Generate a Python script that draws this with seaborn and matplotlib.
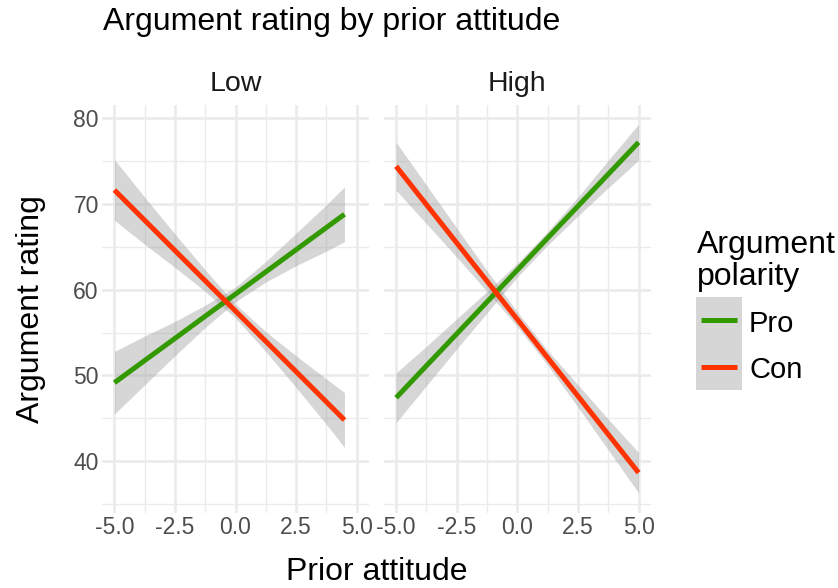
import numpy as np
import pandas as pd
import matplotlib
matplotlib.use("Agg")
import matplotlib.pyplot as plt
import seaborn as sns

# ---------------- data ----------------
panels = ["Low", "High"]
polarities = ["Pro", "Con"]

low_x = [-5, -3.75, -2.5, -1.25, 0, 1.25, 2.5, 3.75, 4.5]
high_x = [-5, -3.75, -2.5, -1.25, 0, 1.25, 2.5, 3.75, 5]

low_pro_fit = [49.15, 51.74, 54.32, 56.91, 59.49, 62.08, 64.66, 67.25, 68.8]
low_pro_lo = [45.5, 48.9, 52.3, 55.6, 58.6, 60.9, 62.8, 64.5, 65.6]
low_pro_hi = [52.8, 54.6, 56.3, 58.2, 60.3, 63.3, 66.6, 69.9, 72.0]

low_con_fit = [71.63, 68.1, 64.57, 61.04, 57.51, 53.98, 50.45, 46.92, 44.8]
low_con_lo = [68.1, 65.3, 62.6, 59.8, 56.7, 52.8, 48.6, 44.3, 41.6]
low_con_hi = [75.2, 70.8, 66.5, 62.3, 58.3, 55.1, 52.3, 49.6, 48.0]

high_pro_fit = [47.4, 51.13, 54.85, 58.58, 62.3, 66.03, 69.75, 73.48, 77.2]
high_pro_lo = [44.5, 48.8, 53.1, 57.3, 61.5, 65.2, 68.6, 71.9, 75.1]
high_pro_hi = [50.3, 53.4, 56.6, 59.8, 63.1, 66.8, 70.8, 75.1, 79.3]

high_con_fit = [74.4, 69.93, 65.46, 60.99, 56.53, 52.06, 47.59, 43.12, 38.65]
high_con_lo = [71.6, 67.7, 63.8, 59.8, 55.7, 51.2, 46.3, 41.3, 36.3]
high_con_hi = [77.2, 72.2, 67.2, 62.2, 57.4, 52.9, 48.9, 44.9, 41.0]

x_ticks = [-5.0, -2.5, 0.0, 2.5, 5.0]
x_tick_labels = ["-5.0", "-2.5", "0.0", "2.5", "5.0"]
y_ticks = [40, 50, 60, 70, 80]
y_tick_labels = ["40", "50", "60", "70", "80"]

series = {
    ("Low", "Pro"): (low_x, low_pro_fit, low_pro_lo, low_pro_hi),
    ("Low", "Con"): (low_x, low_con_fit, low_con_lo, low_con_hi),
    ("High", "Pro"): (high_x, high_pro_fit, high_pro_lo, high_pro_hi),
    ("High", "Con"): (high_x, high_con_fit, high_con_lo, high_con_hi),
}
rows = []
for (pan, pol), (xs, fit, lo, hi) in series.items():
    for a, b, c, d in zip(xs, fit, lo, hi):
        rows.append(dict(panel=pan, polarity=pol, prior=a, rating=b, lo=c, hi=d))
df = pd.DataFrame(rows)

palette = {"Pro": "#339900", "Con": "#FF3300"}

# ---------------- figure ----------------
sns.set_theme(style="white")
plt.rcParams["font.family"] = ["Liberation Sans", "DejaVu Sans"]

W, H = 838, 588
fig = plt.figure(figsize=(W / 100, H / 100), dpi=100)


def rect(x0, y0, x1, y1):
    return [x0 / W, 1 - y1 / H, (x1 - x0) / W, (y1 - y0) / H]


axes = {
    "Low": fig.add_axes(rect(102.3, 105, 368.7, 513)),
    "High": fig.add_axes(rect(384, 105, 650.7, 513)),
}

grid_c = "#EBEBEB"
for pan in panels:
    ax = axes[pan]
    ax.set_facecolor("white")
    for pol in polarities:
        sub = df[(df.panel == pan) & (df.polarity == pol)]
        ax.fill_between(sub.prior, sub.lo, sub.hi, color="#999999", alpha=0.4,
                        linewidth=0, zorder=2)
        sns.lineplot(data=sub, x="prior", y="rating", color=palette[pol],
                     linewidth=3.6, ax=ax, legend=False, estimator=None,
                     sort=False, zorder=3, solid_capstyle="butt")
    ax.set_xlim(-5.5, 5.5)
    ax.set_ylim(33.95, 81.55)
    ax.set_xticks(x_ticks)
    ax.set_xticklabels(x_tick_labels)
    ax.set_xticks([-3.75, -1.25, 1.25, 3.75], minor=True)
    ax.set_yticks(y_ticks)
    ax.set_yticklabels(y_tick_labels)
    ax.set_yticks([35, 45, 55, 65, 75], minor=True)
    ax.grid(which="major", color=grid_c, linewidth=1.9)
    ax.grid(which="minor", color=grid_c, linewidth=1.0)
    ax.set_axisbelow(True)
    for s in ax.spines.values():
        s.set_visible(False)
    ax.tick_params(which="both", length=0, labelsize=16.5,
                   labelcolor="#4D4D4D", pad=2.5)
    ax.set_xlabel("")
    ax.set_ylabel("")
    ax.set_title(pan, fontsize=20.5, pad=10, color="#1A1A1A")

axes["High"].tick_params(labelleft=False)

# titles
fig.text(103 / W, 1 - 30 / H, "Argument rating by prior attitude",
         fontsize=23, ha="left", va="baseline", color="black")
fig.text(376.5 / W, 1 - 580 / H, "Prior attitude", fontsize=23,
         ha="center", va="baseline", color="black")
fig.text(31 / W, 1 - 309 / H, "Argument rating", fontsize=23, rotation=90,
         ha="center", va="center", color="black")

# legend (keys drawn in a small axes: grey ribbon background + coloured line)
fig.text(697 / W, 1 - 285 / H, "Argument\npolarity", fontsize=23,
         ha="left", va="baseline", linespacing=1.1, color="black")
lax = fig.add_axes(rect(696, 297, 742, 390))
lax.set_facecolor("#D6D6D6")
lax.set_xlim(0, 1)
lax.set_ylim(len(polarities), 0)
for i, pol in enumerate(polarities):
    lax.plot([0.1, 0.9], [i + 0.5, i + 0.5], color=palette[pol],
             linewidth=3.6, solid_capstyle="butt")
lax.set_xticks([])
lax.set_yticks([])
for s in lax.spines.values():
    s.set_visible(False)
key_centers = [321.5, 366.5]
for pol, yc in zip(polarities, key_centers):
    fig.text(749 / W, 1 - yc / H, pol, fontsize=21, ha="left",
             va="center_baseline", color="black")

fig.savefig("out.png", dpi=100, facecolor="white")
